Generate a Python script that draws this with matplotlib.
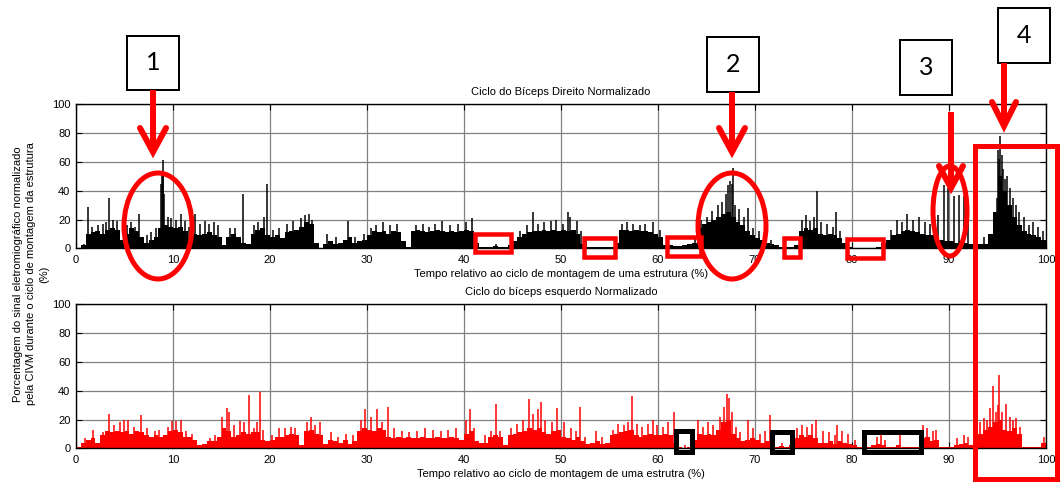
import matplotlib
matplotlib.use("Agg")
import matplotlib.pyplot as plt
from matplotlib.patches import Rectangle, Ellipse
import numpy as np

# ---------------- data ----------------
bin_width = 0.5  # % of cycle per envelope bin
x_ticks = [0, 10, 20, 30, 40, 50, 60, 70, 80, 90, 100]
y_ticks = [0, 20, 40, 60, 80, 100]

title_right = "Ciclo do Bíceps Direito Normalizado"
title_left = "Ciclo do bíceps esquerdo Normalizado"
xlabel_right = "Tempo relativo ao ciclo de montagem de uma estrutura (%)"
xlabel_left = "Tempo relativo ao ciclo de montagem de uma estrutra (%)"
ylabel = ("Porcentagem do sinal eletromiográfico normalizado\n"
          "pela CIVM durante o ciclo de montagem da estrutura\n(%)")

# right biceps: dense envelope level per 0.5 % bin
base_right = [
    0, 2, 10, 11, 12, 10, 13, 14, 13, 6,
    10, 14, 12, 8, 4, 6, 8, 14, 16, 15,
    14, 15, 12, 6, 10, 9, 10, 11, 9, 8,
    2, 8, 10, 8, 4, 3, 10, 13, 14, 9,
    8, 9, 7, 11, 12, 13, 15, 18, 17, 4,
    0, 3, 5, 3, 4, 6, 8, 4, 5, 6,
    9, 12, 11, 12, 10, 12, 11, 5, 1, 12,
    13, 12, 11, 12, 13, 12, 11, 12, 11, 12,
    13, 12, 4, 1, 1, 1, 1.5, 1, 1, 2,
    5, 8, 10, 11, 12, 12, 13, 12, 13, 12,
    13, 12, 13, 10, 3, 1, 1, 1, 1, 1,
    1, 4, 13, 13, 12, 13, 12, 12, 11, 10,
    8, 2, 2, 1.5, 1.5, 2, 3, 4, 14, 17,
    18, 20, 22, 24, 25, 22, 18, 16, 12, 9,
    7, 6, 4, 3, 2, 1, 1, 1, 2, 12,
    14, 13, 14, 10, 9, 10, 9, 7, 4, 1,
    0.5, 0.5, 0.5, 0.5, 0.5, 1, 4, 6, 9, 10,
    12, 13, 12, 11, 10, 9, 9, 8, 6, 5,
    5, 4, 5, 4, 3, 2, 3, 3, 10, 25,
    50, 40, 30, 22, 16, 12, 10, 9, 8, 6,
]
# right biceps: individual peaks (position %, amplitude %)
spike_right_x = [
    0.8, 1.2, 1.6, 2.3, 2.8, 3.1, 3.4, 3.8, 4.2, 5.3, 5.7, 6.1, 6.5, 7.3, 7.7,
    8.2, 8.75, 8.85, 8.92, 9.0, 9.1, 9.5, 9.8, 10.3, 10.8, 11.2, 11.6, 12.3,
    12.8, 13.3, 13.7, 14.2, 14.6, 15.9, 16.4, 17.2, 18.3, 18.8, 19.4, 19.7,
    20.3, 20.9, 21.8, 22.4, 23.2, 23.6, 24.0, 24.3, 25.9, 26.8, 28.0, 28.8,
    29.7, 30.4, 30.9, 31.7, 32.4, 33.1, 35.0, 35.8, 36.4, 37.0, 37.7, 38.6,
    39.4, 40.2, 40.8, 43.3, 45.8, 46.5, 47.1, 47.6, 48.2, 49.0, 49.5, 50.2,
    50.7, 50.95, 51.6, 52.1, 52.6, 56.3, 56.8, 57.4, 58.1, 58.7, 59.5, 60.2,
    61.0, 63.8, 64.4, 65.0, 65.6, 66.2, 66.6, 67.0, 67.2, 67.4, 67.6, 67.7,
    67.9, 68.4, 68.9, 69.3, 69.8, 70.4, 71.0, 71.7, 74.8, 75.3, 75.7, 76.1,
    76.4, 76.8, 77.4, 78.0, 78.3, 78.8, 84.0, 84.6, 85.2, 85.7, 86.3, 86.9,
    87.5, 88.0, 88.9, 89.5, 89.9, 90.5, 91.0, 91.5, 92.0, 92.8, 93.6, 94.6,
    94.9, 95.0, 95.15, 95.3, 95.45, 95.6, 95.8, 96.0, 96.3, 96.6, 96.9, 97.2,
    97.7, 98.2, 98.7, 99.2, 99.7,
]
spike_right_h = [
    3, 29, 15, 16, 17, 18, 35, 20, 19, 16, 18, 15, 24, 9, 11,
    14, 45, 52, 61, 50, 38, 22, 21, 20, 24, 19, 15, 24,
    17, 19, 17, 18, 16, 14, 14, 38, 16, 18, 22, 45,
    13, 14, 17, 19, 21, 23, 24, 20, 10, 8, 19, 8,
    10, 14, 16, 18, 16, 17, 16, 17, 15, 17, 19, 16,
    17, 18, 21, 3, 12, 16, 25, 17, 18, 19, 20, 17,
    25, 22, 19, 12, 8, 17, 18, 17, 16, 17, 18, 13,
    5, 8, 20, 22, 26, 30, 32, 38, 44, 47, 45, 56,
    30, 27, 22, 28, 14, 12, 10, 6, 20, 23, 19, 22,
    40, 18, 17, 15, 25, 12, 13, 20, 18, 24, 20, 22,
    18, 17, 23, 44, 42, 36, 37, 36, 21, 7, 8, 22,
    35, 68, 62, 78, 65, 55, 48, 50, 42, 35, 30, 25,
    22, 16, 18, 15, 12,
]

# left biceps: dense envelope level per 0.5 % bin
base_left = [
    1, 4, 6, 7, 4, 9, 12, 11, 12, 11,
    12, 10, 12, 11, 9, 8, 9, 8, 9, 12,
    13, 11, 8, 8, 6, 2, 3, 5, 5, 8,
    14, 12, 8, 9, 11, 10, 11, 11, 6, 5,
    6, 8, 8, 9, 10, 9, 2, 12, 13, 10,
    9, 3, 6, 5, 4, 6, 3, 5, 12, 14,
    13, 12, 14, 13, 8, 7, 8, 7, 8, 7,
    7, 8, 7, 7, 8, 7, 7, 8, 7, 6,
    10, 12, 5, 4, 4, 8, 9, 8, 2, 9,
    10, 11, 12, 14, 13, 14, 11, 10, 12, 13,
    8, 7, 6, 8, 5, 3, 4, 5, 3, 4,
    9, 10, 11, 12, 13, 9, 8, 9, 10, 9,
    9, 10, 9, 4, 1, 0.5, 1, 6, 10, 9,
    10, 9, 13, 18, 20, 10, 7, 5, 6, 7,
    6, 4, 5, 1, 1, 1.5, 1, 2, 7, 9,
    8, 9, 7, 4, 4, 5, 3, 5, 4, 3,
    2, 1, 1, 1, 2, 3, 2, 1, 1, 2,
    1, 1, 1, 1, 7, 8, 5, 6, 1, 1,
    1, 2, 3, 4, 2, 1, 10, 13, 15, 18,
    20, 13, 12, 14, 10, 1, 1, 1, 1, 4,
]
spike_left_x = [
    0.9, 1.8, 2.8, 3.4, 3.9, 4.5, 4.9, 5.4, 6.0, 6.7, 7.3, 8.1, 8.6, 9.5, 9.9,
    10.3, 10.8, 11.3, 12.0, 13.8, 14.3, 15.1, 15.6, 15.8, 16.3, 16.9, 17.3,
    17.8, 18.3, 18.7, 19.0, 19.3, 20.2, 20.9, 21.5, 22.2, 22.6, 23.8, 24.2,
    24.6, 25.2, 26.3, 27.0, 27.8, 28.6, 29.4, 29.8, 30.4, 31.0, 31.5, 32.2,
    32.8, 33.6, 34.3, 35.2, 36.0, 36.8, 37.6, 38.4, 39.2, 40.2, 40.6, 41.0,
    42.2, 42.8, 43.3, 43.7, 44.8, 45.5, 46.1, 46.7, 47.1, 47.6, 47.9, 48.4,
    49.1, 49.6, 50.3, 51.0, 51.5, 52.0, 52.5, 53.6, 54.2, 55.4, 55.9, 56.5,
    56.9, 57.3, 57.8, 58.4, 59.0, 59.5, 59.9, 60.5, 61.0, 61.6, 62.8, 64.1,
    64.6, 65.2, 65.7, 66.4, 66.8, 67.1, 67.3, 67.6, 68.0, 68.5, 69.3, 69.8,
    70.5, 71.0, 71.5, 72.8, 74.3, 74.8, 75.4, 75.9, 76.3, 77.0, 77.6, 78.2,
    78.5, 79.0, 79.6, 80.3, 82.6, 83.0, 83.4, 84.9, 87.3, 87.7, 88.3, 88.7,
    90.8, 91.5, 92.0, 93.2, 93.6, 93.9, 94.2, 94.5, 94.8, 95.1, 95.2, 95.5,
    95.9, 96.3, 96.6, 96.9, 97.3, 99.8,
]
spike_left_h = [
    7, 13, 11, 24, 16, 18, 20, 20, 15, 23, 14, 12, 13, 15, 19,
    19, 20, 12, 10, 7, 9, 22, 28, 25, 16, 19, 18,
    37, 14, 18, 39, 13, 9, 14, 14, 15, 14, 18, 22,
    16, 18, 11, 8, 10, 9, 20, 27, 22, 27, 18, 29,
    14, 12, 11, 12, 14, 13, 12, 13, 14, 20, 27, 14,
    9, 12, 31, 12, 14, 17, 20, 34, 24, 27, 32, 20,
    18, 28, 18, 14, 12, 29, 8, 12, 8, 13, 17, 16,
    18, 36, 17, 15, 17, 20, 16, 15, 18, 25, 2, 20,
    15, 18, 16, 22, 29, 38, 35, 25, 15, 11, 20, 14,
    10, 12, 23, 4, 14, 16, 15, 17, 20, 12, 11, 9,
    16, 12, 10, 6, 8, 10, 6, 9, 16, 14, 12, 13,
    7, 9, 8, 18, 21, 20, 28, 43, 25, 30, 51, 25,
    31, 22, 20, 21, 15, 8,
]

# ---------------- figure ----------------
W, H = 1061, 482
plt.rcParams['font.family'] = ['Liberation Sans', 'DejaVu Sans']
fig = plt.figure(figsize=(W / 100, H / 100), dpi=100)

def px_axes(x0, y0, x1, y1):
    return fig.add_axes([x0 / W, 1 - y1 / H, (x1 - x0) / W, (y1 - y0) / H])

ax1 = px_axes(76, 104.3, 1046, 248.3)
ax2 = px_axes(76, 304.3, 1046, 448.3)

def draw(ax, base, sx, sh, color, title, xlabel, lpad):
    edges = np.arange(len(base)) * bin_width
    ax.bar(edges, base, width=bin_width, align='edge', color=color,
           linewidth=0, zorder=3)
    ax.vlines(sx, 0, sh, color=color, linewidth=1.1, zorder=3)
    ax.set_xlim(0, 100)
    ax.set_ylim(0, 100)
    ax.set_xticks(x_ticks)
    ax.set_yticks(y_ticks)
    ax.grid(True, color='#808080', linewidth=0.9, zorder=1)
    ax.set_axisbelow(True)
    ax.tick_params(direction='in', top=True, right=True, length=4,
                   width=0.8, labelsize=8, colors='black')
    ax.tick_params(axis='x', pad=5)
    ax.tick_params(axis='y', pad=4)
    for s in ax.spines.values():
        s.set_linewidth(1.0)
        s.set_zorder(5)
    ax.set_title(title, fontsize=8, pad=7)
    ax.set_xlabel(xlabel, fontsize=8, labelpad=lpad)

draw(ax1, base_right, spike_right_x, spike_right_h, 'black', title_right,
     xlabel_right, 3)
draw(ax2, base_left, spike_left_x, spike_left_h, '#ff0000', title_left,
     xlabel_left, 3)

fig.text(31 / W, 1 - 274 / H, ylabel, rotation=90, ha='center', va='center',
         fontsize=8, multialignment='center', linespacing=1.35)

# ---------------- annotation overlay (pixel coordinates) ----------------
ov = fig.add_axes([0, 0, 1, 1], zorder=10)
ov.set_xlim(0, W)
ov.set_ylim(H, 0)
ov.axis('off')
ov.patch.set_alpha(0)

RED = '#ff0000'
lw_px = 0.72

def box_num(x0, y0, x1, y1, label):
    ov.add_patch(Rectangle((x0, y0), x1 - x0, y1 - y0, fill=True,
                           facecolor='white', edgecolor='black',
                           linewidth=2 * lw_px))
    ov.text((x0 + x1) / 2, (y0 + y1) / 2, label, ha='center', va='center',
            fontsize=18, family=['Lato', 'DejaVu Sans'])

def arrow(x, y0, y1, hw=13, hh=24):
    ov.plot([x, x], [y0, y1 - 2], color=RED, linewidth=6 * lw_px,
            solid_capstyle='butt')
    ov.plot([x - hw, x, x + hw], [y1 - hh, y1, y1 - hh], color=RED,
            linewidth=6 * lw_px, solid_joinstyle='miter',
            solid_capstyle='round')

def ell(cx, cy, w, h):
    ov.add_patch(Ellipse((cx, cy), w, h, fill=False, edgecolor=RED,
                         linewidth=5 * lw_px))

def rect(x0, y0, x1, y1, color, lw=5):
    ov.add_patch(Rectangle((x0, y0), x1 - x0, y1 - y0, fill=False,
                           edgecolor=color, linewidth=lw * lw_px))

box_num(127, 36, 179, 90, '1')
box_num(707, 37, 759, 92, '2')
box_num(900, 40, 952, 95, '3')
box_num(998, 8, 1050, 63, '4')

arrow(153, 90, 152)
arrow(732, 92, 152)
arrow(951, 112, 188, hw=12, hh=22)
arrow(1004, 63, 126, hw=12, hh=24)

ell(158, 226, 68, 106)
ell(732, 226, 68, 106)
ell(950, 211, 34, 90)

rect(975, 146, 1057, 479, RED)

for (a, b, c, d) in [(475, 234, 511, 252), (584, 238, 615, 257),
                     (667, 237, 701, 256), (784, 238, 800, 257),
                     (847, 239, 883, 258)]:
    rect(a, b, c, d, RED, lw=4.5)

for (a, b, c, d) in [(676, 431, 692, 452), (772, 432, 792, 452),
                     (864, 432, 921, 452)]:
    rect(a, b, c, d, 'black', lw=5)

fig.savefig('out.png', dpi=100)
